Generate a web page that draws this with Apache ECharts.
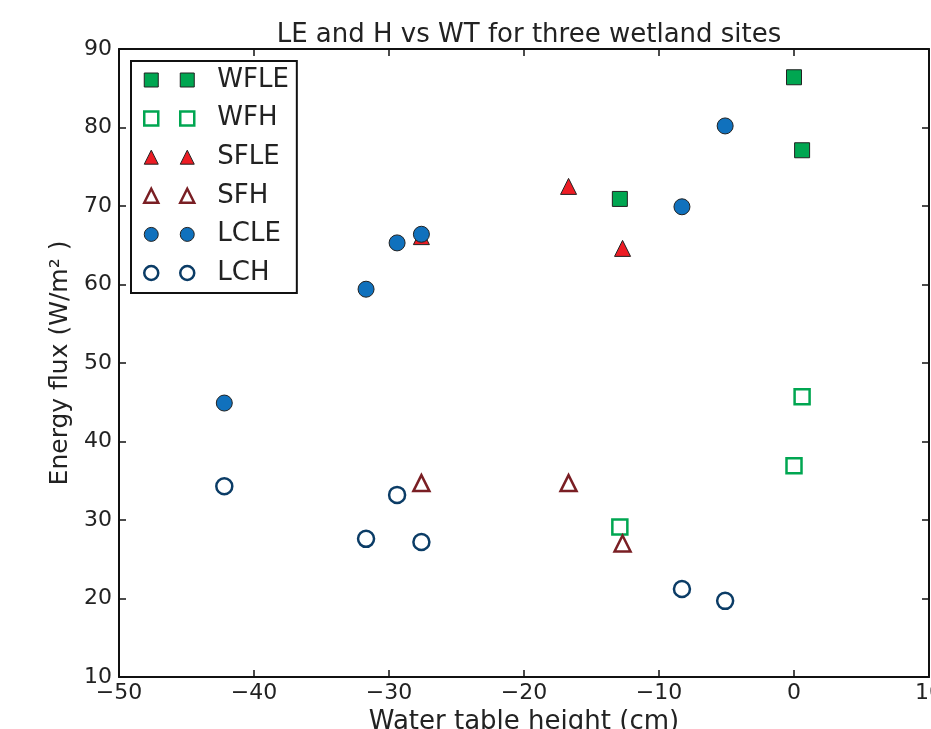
<!DOCTYPE html>
<html><head><meta charset="utf-8">
<script src="https://cdn.jsdelivr.net/npm/echarts@6/dist/echarts.min.js"></script>
<style>html,body{margin:0;padding:0;background:#fff;overflow:hidden;width:100%;height:100%;}#c{width:100vw;height:100vh;}</style>
</head><body><div id="c"></div>
<script>
const titleText = 'LE and H vs WT for three wetland sites';
const xName = 'Water table height (cm)';
const yName = 'Energy flux (W/m\u00B2 )';
const xTicks = [-50, -40, -30, -20, -10, 0, 10];
const yTicks = [10, 20, 30, 40, 50, 60, 70, 80, 90];

const wfX = [0.0, 0.6, -12.9];
const wfleY = [86.4, 77.1, 70.9];
const wfhY = [36.9, 45.7, 29.1];
const sfX = [-27.6, -16.7, -12.7];
const sfleY = [66.1, 72.5, 64.6];
const sfhY = [34.7, 34.7, 27.0];
const lcX = [-42.2, -31.7, -29.4, -27.6, -8.3, -5.1];
const lcleY = [44.9, 59.4, 65.3, 66.4, 69.9, 80.2];
const lchY = [34.3, 27.6, 33.2, 27.2, 21.2, 19.7];

const names = ['WFLE', 'WFH', 'SFLE', 'SFH', 'LCLE', 'LCH'];

const pair = (xs, ys) => xs.map((x, i) => [x, ys[i]]);
const FONT = 'DejaVu Sans';
const GREEN = '#00a651', RED = '#ed1c24', MAROON = '#7a1f24', BLUE = '#1071bd', NAVY = '#0b3c66';

const ICON_SQ = 'path://M0,0 H14 V14 H0 Z M36,0 H50 V14 H36 Z';
const ICON_TRI = 'path://M7,0 L14,14 L0,14 Z M43,0 L50,14 L36,14 Z';
const ICON_CIR = 'path://M0,7 A7,7 0 1,0 14,7 A7,7 0 1,0 0,7 Z M36,7 A7,7 0 1,0 50,7 A7,7 0 1,0 36,7 Z';

const styles = {
  WFLE: {symbol: 'rect', size: 15, icon: ICON_SQ, item: {color: GREEN, borderColor: '#222', borderWidth: 1}},
  WFH: {symbol: 'rect', size: 15, icon: ICON_SQ, item: {color: '#fff', borderColor: GREEN, borderWidth: 2.5}},
  SFLE: {symbol: 'triangle', size: 16, icon: ICON_TRI, item: {color: RED, borderColor: '#222', borderWidth: 1}},
  SFH: {symbol: 'triangle', size: 16, icon: ICON_TRI, item: {color: '#fff', borderColor: MAROON, borderWidth: 2.5}},
  LCLE: {symbol: 'circle', size: 16, icon: ICON_CIR, item: {color: BLUE, borderColor: '#222', borderWidth: 1}},
  LCH: {symbol: 'circle', size: 16, icon: ICON_CIR, item: {color: '#fff', borderColor: NAVY, borderWidth: 2.5}}
};
const seriesData = {
  WFLE: pair(wfX, wfleY), WFH: pair(wfX, wfhY),
  SFLE: pair(sfX, sfleY), SFH: pair(sfX, sfhY),
  LCLE: pair(lcX, lcleY), LCH: pair(lcX, lchY)
};

const minus = v => String(v).replace('-', '\u2212');
const axisCommon = {
  axisLine: {show: true, onZero: false, lineStyle: {color: '#111', width: 2}},
  axisTick: {show: true, inside: true, length: 7, lineStyle: {color: '#111', width: 1.5}},
  splitLine: {show: false}
};

const chart = echarts.init(document.getElementById('c'), null, {renderer: 'canvas'});
chart.setOption({
  animation: false,
  backgroundColor: '#fff',
  title: {
    text: titleText, left: 524, top: 17, textAlign: 'center',
    textStyle: {fontFamily: FONT, fontSize: 26, fontWeight: 'normal', color: '#222'}
  },
  grid: {left: 119, right: 2, top: 49, bottom: 52, containLabel: false, outerBoundsMode: 'none'},
  legend: {
    orient: 'vertical', left: 131, top: 61,
    borderColor: '#111', borderWidth: 2, backgroundColor: '#fff',
    padding: [6, 8, 7, 12], itemGap: 12.6,
    itemWidth: 50, itemHeight: 14,
    textStyle: {fontFamily: FONT, fontSize: 26, color: '#222', lineHeight: 26, padding: [0, 0, 0, 18]},
    data: names.map(n => ({name: n, icon: styles[n].icon, itemStyle: styles[n].item}))
  },
  xAxis: [
    Object.assign({
      type: 'value', min: xTicks[0], max: xTicks[xTicks.length - 1], interval: 10, position: 'bottom',
      name: xName, nameLocation: 'middle', nameGap: 28,
      nameTextStyle: {fontFamily: FONT, fontSize: 26, color: '#222'},
      axisLabel: {fontFamily: FONT, fontSize: 22, color: '#222', margin: 5, formatter: minus}
    }, axisCommon),
    Object.assign({
      type: 'value', min: xTicks[0], max: xTicks[xTicks.length - 1], interval: 10, position: 'top',
      axisLabel: {show: false}
    }, axisCommon)
  ],
  yAxis: [
    Object.assign({
      type: 'value', min: yTicks[0], max: yTicks[yTicks.length - 1], interval: 10, position: 'left',
      name: yName, nameLocation: 'middle', nameGap: 45, nameRotate: 90,
      nameTextStyle: {fontFamily: FONT, fontSize: 25, color: '#222'},
      axisLabel: {fontFamily: FONT, fontSize: 22, color: '#222', margin: 7, formatter: minus}
    }, axisCommon),
    Object.assign({
      type: 'value', min: yTicks[0], max: yTicks[yTicks.length - 1], interval: 10, position: 'right',
      axisLabel: {show: false}
    }, axisCommon)
  ],
  series: names.map(n => ({
    name: n, type: 'scatter', xAxisIndex: 0, yAxisIndex: 0,
    symbol: styles[n].symbol, symbolSize: styles[n].size,
    itemStyle: Object.assign({opacity: 1}, styles[n].item),
    emphasis: {disabled: true},
    data: seriesData[n]
  }))
});
</script></body></html>
